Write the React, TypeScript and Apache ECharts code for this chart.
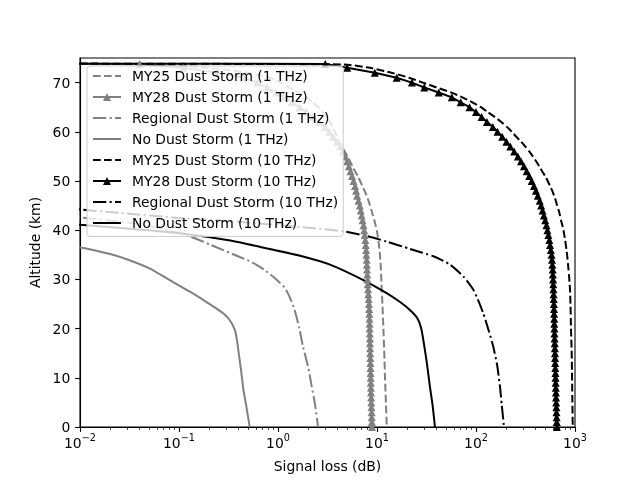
import React, { useEffect, useRef } from "react";
import * as echarts from "echarts";

const FONT = "DejaVu Sans";
const GRAY = "#808080";
const BLACK = "#000000";

// [signal loss (dB), altitude (km)]
const my25_1THz: [number, number][] = [
  [1e-4, 73.9], [0.06, 73.7], [0.2, 73], [0.5, 72], [0.83, 71], [1.05, 70], [1.3, 69], [1.6, 68],
  [1.95, 67], [2.25, 66], [2.55, 65], [2.85, 64], [3.1, 63], [3.35, 62], [3.55, 61], [3.75, 60],
  [3.95, 59], [4.15, 58], [4.42, 57], [4.72, 56], [5.05, 55], [5.35, 54], [5.65, 53], [6.0, 52],
  [6.4, 51], [6.75, 50], [7.1, 49], [7.5, 48], [7.85, 47], [8.2, 46], [8.5, 45], [8.8, 44],
  [9.1, 43], [9.4, 42], [9.7, 41], [9.95, 40], [10.3, 38], [10.6, 36], [10.8, 34], [10.95, 32],
  [11.05, 30], [11.15, 28], [11.35, 25], [11.6, 20], [11.85, 15], [12.05, 10], [12.3, 5], [12.55, 0],
];

const my28_1THz: [number, number][] = [
  [1e-4, 73.9], [0.04, 73.8], [0.11, 73], [0.24, 72], [0.45, 71], [0.62, 70], [0.78, 69], [0.95, 68],
  [1.15, 67], [1.38, 66], [1.65, 65], [1.95, 64], [2.25, 63], [2.6, 62], [3.0, 61], [3.3, 60],
  [3.6, 59], [3.95, 58], [4.25, 57], [4.55, 56], [4.8, 55], [5.0, 54], [5.2, 53], [5.4, 52],
  [5.6, 51], [5.8, 50], [6.0, 49], [6.15, 48], [6.3, 47], [6.5, 46], [6.7, 45], [6.85, 44],
  [7.0, 43], [7.15, 42], [7.3, 41], [7.42, 40], [7.52, 39], [7.62, 38], [7.7, 37], [7.76, 36],
  [7.82, 35], [7.87, 34], [7.9, 33], [7.94, 32], [7.98, 31], [8.02, 30], [8.07, 29], [8.12, 28],
  [8.18, 27], [8.24, 26], [8.3, 25], [8.34, 24], [8.37, 23], [8.4, 22], [8.42, 21], [8.44, 20],
  [8.46, 19], [8.48, 18], [8.5, 17], [8.52, 16], [8.54, 15], [8.56, 14], [8.58, 13], [8.6, 12],
  [8.62, 11], [8.64, 10], [8.66, 9], [8.68, 8], [8.7, 7], [8.73, 6], [8.76, 5], [8.79, 4],
  [8.82, 3], [8.85, 2], [8.88, 1], [8.9, 0],
];

const regional_1THz: [number, number][] = [
  [0.0039, 43.5], [0.01, 42.6], [0.032, 41.5], [0.064, 40.4], [0.123, 38.9], [0.21, 37.0],
  [0.394, 34.7], [0.546, 33.5], [0.734, 31.9], [0.95, 30.1], [1.17, 28.3], [1.32, 26.3],
  [1.47, 23.8], [1.64, 20.1], [1.79, 16.3], [2.01, 12.3], [2.18, 8.5], [2.37, 4.5], [2.54, 0],
];

const noDust_1THz: [number, number][] = [
  [0.0039, 37.4], [0.01, 36.5], [0.0206, 35.1], [0.0306, 34.0], [0.0509, 32.2], [0.0831, 29.7],
  [0.129, 27.5], [0.183, 25.6], [0.242, 24.0], [0.291, 22.8], [0.334, 21.4], [0.367, 19.7],
  [0.385, 17.7], [0.403, 14.7], [0.423, 11.6], [0.448, 7.5], [0.476, 4.5], [0.518, 0],
];

const my25_10THz: [number, number][] = [
  [1e-4, 73.9], [4.5, 73.7], [8.5, 73], [14, 72], [21, 71], [29, 70], [40, 69], [56, 68],
  [73, 67], [92, 66], [112, 65], [132, 64], [155, 63], [180, 62], [205, 61], [230, 60],
  [255, 59], [285, 58], [315, 57], [345, 56], [375, 55], [405, 54], [435, 53], [465, 52],
  [500, 51], [530, 50], [560, 49], [590, 48], [615, 47], [640, 46], [660, 45], [685, 44],
  [705, 43], [722, 42], [745, 41], [765, 40], [780, 39], [795, 38], [808, 37], [821, 36],
  [832, 35], [842, 34], [851, 33], [860, 32], [868, 31], [876, 30], [890, 28], [900, 25],
  [911, 20], [926, 15], [934, 10], [941, 5], [949, 0],
];

const my28_10THz: [number, number][] = [
  [1e-4, 73.9], [3.0, 73.8], [5.0, 73], [9.5, 72], [15.8, 71], [22.5, 70], [30, 69], [42, 68],
  [57, 67], [70, 66], [86, 65], [100, 64], [114, 63], [129, 62], [148, 61], [165, 60],
  [184, 59], [203, 58], [222, 57], [243, 56], [265, 55], [285, 54], [305, 53], [325, 52],
  [345, 51], [365, 50], [385, 49], [403, 48], [421, 47], [440, 46], [455, 45], [470, 44],
  [485, 43], [500, 42], [515, 41], [527, 40], [538, 39], [550, 38], [560, 37], [570, 36],
  [580, 35], [586, 34], [591, 33], [595, 32], [598, 31], [601, 30], [603, 29], [606, 28],
  [608, 27], [610, 26], [612, 25], [614, 24], [615, 23], [617, 22], [618, 21], [620, 20],
  [621, 19], [623, 18], [624, 17], [626, 16], [628, 15], [629, 14], [631, 13], [633, 12],
  [635, 11], [636, 10], [638, 9], [640, 8], [642, 7], [644, 6], [646, 5], [648, 4],
  [650, 3], [652, 2], [654, 1], [656, 0],
];

const regional_10THz: [number, number][] = [
  [0.0039, 44.8], [0.01, 44.2], [0.026, 43.5], [0.098, 42.5], [0.247, 42.0], [1.05, 41.0],
  [4.5, 39.8], [7.56, 38.9], [12.5, 37.7], [21.5, 36.2], [37.0, 34.7], [54.6, 33.0], [74.5, 30.6],
  [94, 27.9], [106, 25.6], [118.5, 23.1], [133, 19.9], [149.5, 16.3], [164, 12.4], [174.7, 8.2],
  [182, 4.5], [191.7, 0],
];

const noDust_10THz: [number, number][] = [
  [0.0039, 41.8], [0.01, 41.1], [0.032, 40.3], [0.102, 39.4], [0.329, 37.9], [0.776, 36.3],
  [1.67, 34.8], [3.35, 33.0], [7.2, 29.9], [12.5, 27.2], [17.1, 25.4], [21.5, 23.8],
  [25.4, 22.2], [27.9, 20.1], [29.9, 16.7], [32.1, 12.6], [34.3, 8.1], [36.4, 4.5], [38.5, 0],
];

const X_MAJOR = [0.01, 0.1, 1, 10, 100, 1000];
const X_MINOR_MULTS = [2, 3, 4, 5, 6, 7, 8, 9];
const Y_TICKS = [0, 10, 20, 30, 40, 50, 60, 70];
const SUPS: Record<number, string> = { [-2]: "−2", [-1]: "−1", 0: "0", 1: "1", 2: "2", 3: "3" };

const LEGEND_NAMES = [
  "MY25 Dust Storm (1 THz)",
  "MY28 Dust Storm (1 THz)",
  "Regional Dust Storm (1 THz)",
  "No Dust Storm (1 THz)",
  "MY25 Dust Storm (10 THz)",
  "MY28 Dust Storm (10 THz)",
  "Regional Dust Storm (10 THz)",
  "No Dust Storm (10 THz)",
];
const HAS_MARKER = [false, true, false, false, false, true, false, false];

const DASHED = [7.7, 3.3];
const DASHDOT = [13.3, 3.3, 2.1, 3.3];

function mk(name: string, data: [number, number][], color: string, type: any, marker: boolean) {
  return {
    name,
    type: "line",
    data,
    xAxisIndex: 0,
    yAxisIndex: 0,
    symbol: marker ? "triangle" : "none",
    symbolSize: 8,
    showSymbol: marker,
    showAllSymbol: true,
    smooth: marker ? false : 0.2,
    clip: true,
    lineStyle: { color, width: 2, type, cap: "butt" },
    itemStyle: { color, borderWidth: 0 },
    emphasis: { disabled: true },
    silent: true,
  };
}

export default function App() {
  const ref = useRef<HTMLDivElement>(null);
  useEffect(() => {
    const chart = echarts.init(ref.current!, null, { renderer: "svg" });
    const minor: number[] = [];
    for (const d of X_MAJOR.slice(0, -1)) for (const m of X_MINOR_MULTS) minor.push(d * m);
    const option: any = {
      animation: false,
      textStyle: { fontFamily: FONT },
      grid: {
        left: 80, right: 65, top: 58, bottom: 53,
        show: true, borderColor: BLACK, borderWidth: 1.1, backgroundColor: "transparent",
      },
      legend: {
        orient: "vertical",
        left: 87,
        top: 66,
        padding: [3, 5, 6.4, 5],
        itemGap: 7,
        itemWidth: 28,
        itemHeight: 10,
        backgroundColor: "rgba(255,255,255,0.8)",
        borderColor: "#cccccc",
        borderWidth: 1,
        borderRadius: 3,
        selectedMode: false,
        data: LEGEND_NAMES.map((name, i) =>
          HAS_MARKER[i]
            ? { name }
            : { name, itemStyle: { color: "rgba(0,0,0,0)", borderColor: "rgba(0,0,0,0)", opacity: 0 } }
        ),
        textStyle: { fontFamily: FONT, fontSize: 13.9, color: BLACK, padding: [0, 0, 0, 6] },
      },
      xAxis: [
        {
          type: "log",
          logBase: 10,
          min: 0.01,
          max: 1000,
          position: "bottom",
          name: "Signal loss (dB)",
          nameLocation: "middle",
          nameGap: 32,
          nameTextStyle: { fontFamily: FONT, fontSize: 13.9, color: BLACK },
          axisLine: { show: true, lineStyle: { color: BLACK, width: 1.1 } },
          axisTick: { show: true, inside: false, length: 4.9, lineStyle: { color: BLACK, width: 1.1 }, customValues: X_MAJOR },
          splitLine: { show: false },
          axisLabel: {
            customValues: X_MAJOR,
            margin: 5,
            color: BLACK,
            formatter: (v: number) => `{b|10}{s|${SUPS[Math.round(Math.log10(v))]}}`,
            rich: {
              b: { fontFamily: FONT, fontSize: 13.9, color: BLACK, lineHeight: 18, verticalAlign: "bottom" },
              s: { fontFamily: FONT, fontSize: 9.7, color: BLACK, lineHeight: 12, verticalAlign: "top" },
            },
          },
        },
        {
          type: "log",
          logBase: 10,
          min: 0.01,
          max: 1000,
          position: "bottom",
          axisLine: { show: false },
          axisLabel: { show: false },
          splitLine: { show: false },
          axisTick: { show: true, inside: false, length: 2.8, lineStyle: { color: BLACK, width: 0.8 }, customValues: minor },
        },
      ],
      yAxis: {
        type: "value",
        min: 0,
        max: 75,
        interval: 10,
        name: "Altitude (km)",
        nameLocation: "middle",
        nameGap: 36,
        nameTextStyle: { fontFamily: FONT, fontSize: 13.9, color: BLACK },
        axisLine: { show: true, lineStyle: { color: BLACK, width: 1.1 } },
        axisTick: { show: true, inside: false, length: 4.9, lineStyle: { color: BLACK, width: 1.1 }, customValues: Y_TICKS },
        splitLine: { show: false },
        axisLabel: { customValues: Y_TICKS, margin: 9.7, fontFamily: FONT, fontSize: 13.9, color: BLACK },
      },
      series: [
        mk(LEGEND_NAMES[0], my25_1THz, GRAY, DASHED, false),
        mk(LEGEND_NAMES[1], my28_1THz, GRAY, "solid", true),
        mk(LEGEND_NAMES[2], regional_1THz, GRAY, DASHDOT, false),
        mk(LEGEND_NAMES[3], noDust_1THz, GRAY, "solid", false),
        mk(LEGEND_NAMES[4], my25_10THz, BLACK, DASHED, false),
        mk(LEGEND_NAMES[5], my28_10THz, BLACK, "solid", true),
        mk(LEGEND_NAMES[6], regional_10THz, BLACK, DASHDOT, false),
        mk(LEGEND_NAMES[7], noDust_10THz, BLACK, "solid", false),
      ],
    };
    chart.setOption(option);
    return () => chart.dispose();
  }, []);
  return <div ref={ref} style={{ position: "fixed", left: 0, top: 0, width: 640, height: 480 }} />;
}
